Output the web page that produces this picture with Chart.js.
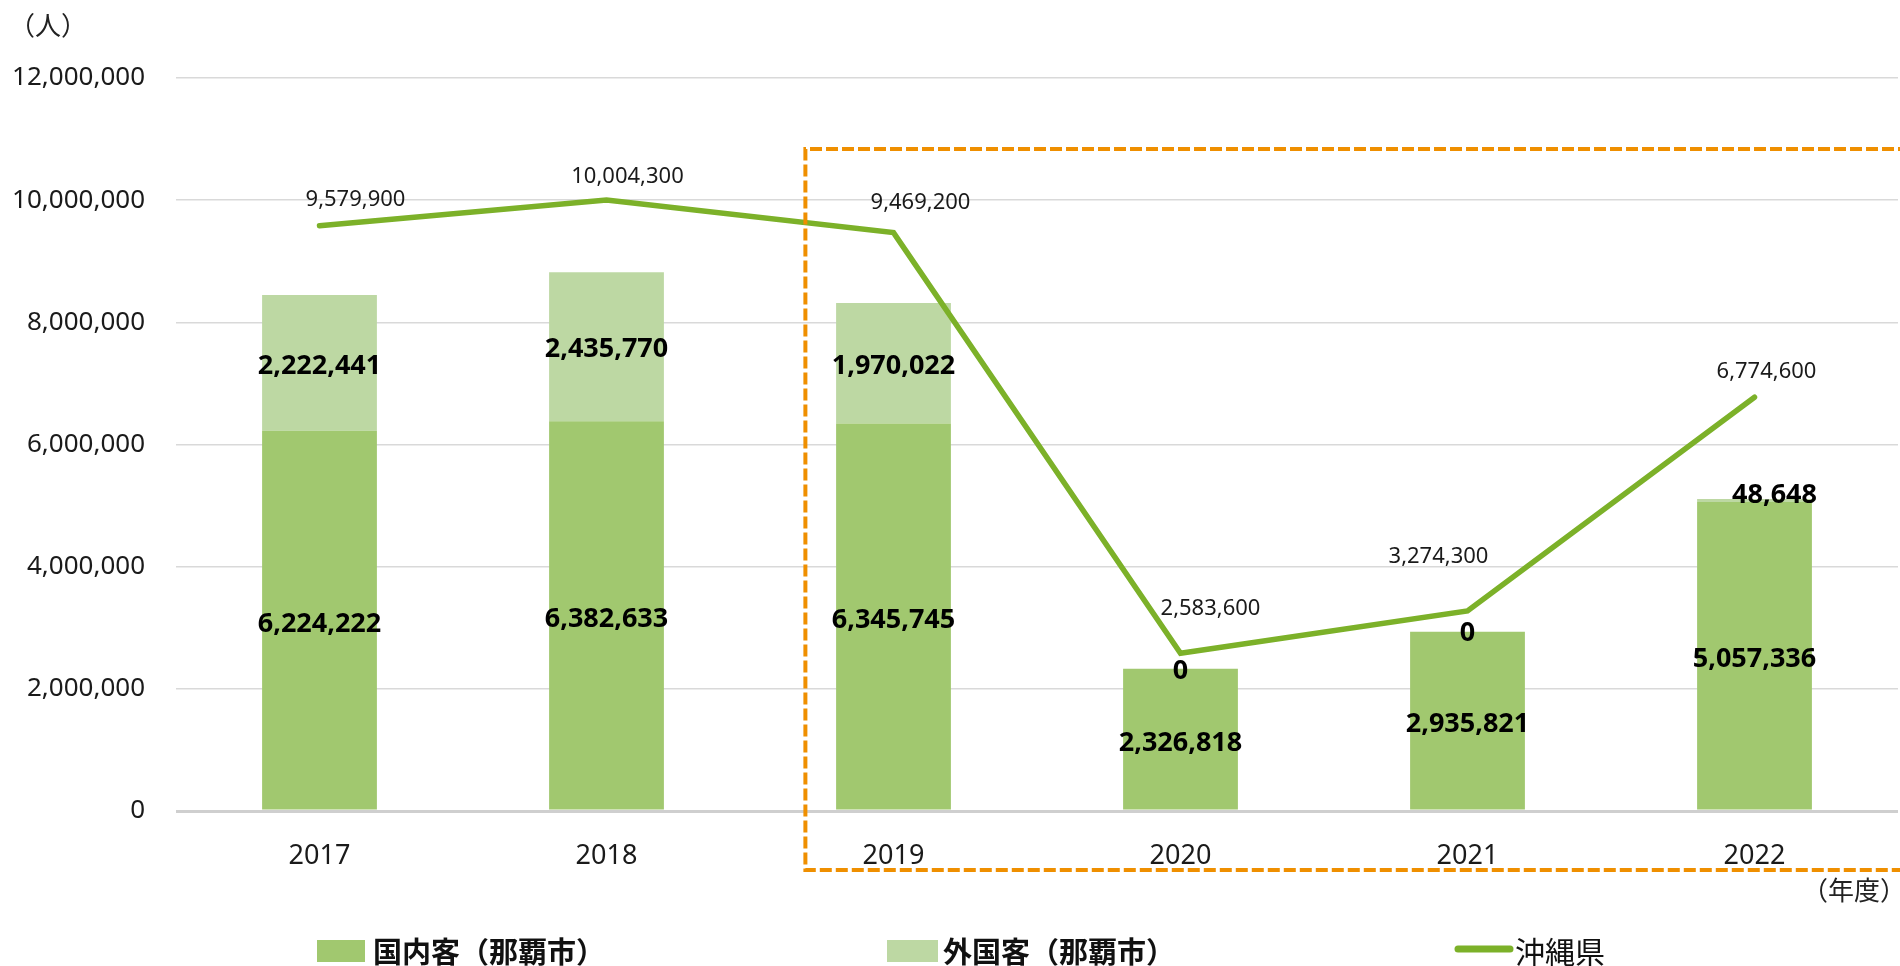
<!DOCTYPE html>
<html lang="ja">
<head>
<meta charset="utf-8">
<title>入域観光客数の推移</title>
<script src="https://cdn.jsdelivr.net/npm/chart.js@4.4.1/dist/chart.umd.min.js"></script>
<style>
    html, body { margin: 0; padding: 0; background: #fff; }
    #wrap { width: 1900px; height: 966px; }
</style>
</head>
<body>
<div id="wrap"><canvas id="chart" width="1900" height="966"></canvas></div>
<script>
// データ
const years = ['2017', '2018', '2019', '2020', '2021', '2022'];
const domestic = [6224222, 6382633, 6345745, 2326818, 2935821, 5057336];   // 国内客（那覇市）
const foreign = [2222441, 2435770, 1970022, 0, 0, 48648];                 // 外国客（那覇市）
const okinawa = [9579900, 10004300, 9469200, 2583600, 3274300, 6774600];  // 沖縄県
const yTickValues = [0, 2000000, 4000000, 6000000, 8000000, 10000000, 12000000];

const FONT = "'Noto Sans', 'Noto Sans CJK JP', sans-serif";
const CJK = "'Noto Sans CJK JP', 'Noto Sans', sans-serif";
const COLOR_DOM = '#A1C86F';
const COLOR_FOR = '#BDD8A3';
const COLOR_LINE = '#7CB129';
const COLOR_BOX = '#EF8F00';

// ラベルの微調整 (Excel で手動移動されている分)
const lineLabelShift = [[36, -26], [21, -23], [27, -30], [30, -44], [-29, -54], [12, -25]];
const foreignLabelShift = [[0, 3], [0, 3], [0, 3], [0, 2], [0, 2], [20, -5]];

const fmt = (v) => Number(v).toLocaleString('en-US');

// 値ラベル
const valueLabels = {
    id: 'valueLabels',
    afterDatasetsDraw(chart) {
        const ctx = chart.ctx;
        ctx.save();
        ctx.textAlign = 'center';
        ctx.textBaseline = 'middle';

        // 棒グラフ
        ctx.font = `bold 27px ${FONT}`;
        ctx.fillStyle = '#000';
        [0, 1].forEach((di) => {
            const ds = chart.data.datasets[di];
            chart.getDatasetMeta(di).data.forEach((el, i) => {
                const shift = di === 1 ? foreignLabelShift[i] : [0, 4];
                const cy = (el.y + el.base) / 2;
                ctx.fillText(fmt(ds.data[i]), el.x + shift[0], cy + shift[1]);
            });
        });

        // 折れ線
        ctx.font = `22px ${FONT}`;
        ctx.fillStyle = '#1a1a1a';
        const lds = chart.data.datasets[2];
        chart.getDatasetMeta(2).data.forEach((el, i) => {
            const s = lineLabelShift[i];
            ctx.fillText(fmt(lds.data[i]), el.x + s[0], el.y + s[1]);
        });
        ctx.restore();
    }
};

// 破線枠・凡例・単位
const decorations = {
    id: 'decorations',
    afterDraw(chart) {
        const ctx = chart.ctx;
        const area = chart.chartArea;
        const xs = chart.scales.x;
        const step = xs.getPixelForValue(1) - xs.getPixelForValue(0);

        // 2019年度以降を囲む破線
        const left = xs.getPixelForValue(2) - step * 0.307;
        ctx.save();
        ctx.strokeStyle = COLOR_BOX;
        ctx.lineWidth = 4;
        ctx.setLineDash([12, 4]);
        ctx.beginPath();
        ctx.moveTo(chart.width + 10, area.top + 71);
        ctx.lineTo(left, area.top + 71);
        ctx.lineTo(left, area.bottom + 59);
        ctx.lineTo(chart.width + 10, area.bottom + 59);
        ctx.stroke();
        ctx.restore();

        // 単位
        ctx.save();
        ctx.fillStyle = '#222';
        ctx.textAlign = 'center';
        ctx.textBaseline = 'middle';
        ctx.font = `26px ${CJK}`;
        ctx.fillText('（人）', 48, 25);
        ctx.fillText('（年度）', 1854, 890);
        ctx.restore();

        // 凡例
        ctx.save();
        ctx.textAlign = 'left';
        ctx.textBaseline = 'middle';
        ctx.fillStyle = COLOR_DOM;
        ctx.fillRect(317, 940, 48, 22);
        ctx.fillStyle = COLOR_FOR;
        ctx.fillRect(887, 940, 51, 22);
        ctx.strokeStyle = COLOR_LINE;
        ctx.lineWidth = 7;
        ctx.lineCap = 'round';
        ctx.beginPath();
        ctx.moveTo(1458, 949);
        ctx.lineTo(1510, 949);
        ctx.stroke();

        ctx.fillStyle = '#111';
        ctx.font = `bold 29px ${CJK}`;
        ctx.fillText(chart.data.datasets[0].label, 373, 952);
        ctx.fillText(chart.data.datasets[1].label, 943, 952);
        ctx.font = `30px ${CJK}`;
        ctx.fillText(chart.data.datasets[2].label, 1515, 952);
        ctx.restore();
    }
};

new Chart(document.getElementById('chart'), {
    data: {
        labels: years,
        datasets: [
            {
                type: 'bar',
                label: '国内客（那覇市）',
                data: domestic,
                backgroundColor: COLOR_DOM,
                stack: 'naha',
                order: 1,
                categoryPercentage: 1,
                barPercentage: 0.4
            },
            {
                type: 'bar',
                label: '外国客（那覇市）',
                data: foreign,
                backgroundColor: COLOR_FOR,
                stack: 'naha',
                order: 1,
                categoryPercentage: 1,
                barPercentage: 0.4
            },
            {
                type: 'line',
                label: '沖縄県',
                data: okinawa,
                borderColor: COLOR_LINE,
                backgroundColor: COLOR_LINE,
                borderWidth: 5.5,
                borderCapStyle: 'round',
                pointRadius: 0,
                tension: 0,
                stack: 'pref',
                order: 0
            }
        ]
    },
    options: {
        responsive: false,
        animation: false,
        layout: { padding: { top: 78, right: 2, left: 0, bottom: 0 } },
        plugins: {
            legend: { display: false },
            tooltip: { enabled: false }
        },
        scales: {
            x: {
                stacked: true,
                grid: { display: false },
                border: { display: false },
                ticks: { font: { family: FONT, size: 27 }, color: '#1a1a1a', padding: 21 },
                afterFit: (s) => { s.height = 155; }
            },
            y: {
                stacked: true,
                min: 0,
                max: 12000000,
                border: { display: false },
                grid: {
                    drawTicks: false,
                    color: (c) => c.tick && c.tick.value === 0 ? '#cfcfcf' : '#d9d9d9',
                    lineWidth: (c) => c.tick && c.tick.value === 0 ? 3 : 1.5
                },
                afterBuildTicks: (s) => { s.ticks = yTickValues.map((v) => ({ value: v })); },
                ticks: {
                    font: { family: FONT, size: 26 },
                    color: '#1a1a1a',
                    padding: 31,
                    callback: (v) => fmt(v)
                },
                afterFit: (s) => { s.width = 176; }
            }
        }
    },
    plugins: [valueLabels, decorations]
});
</script>
</body>
</html>
